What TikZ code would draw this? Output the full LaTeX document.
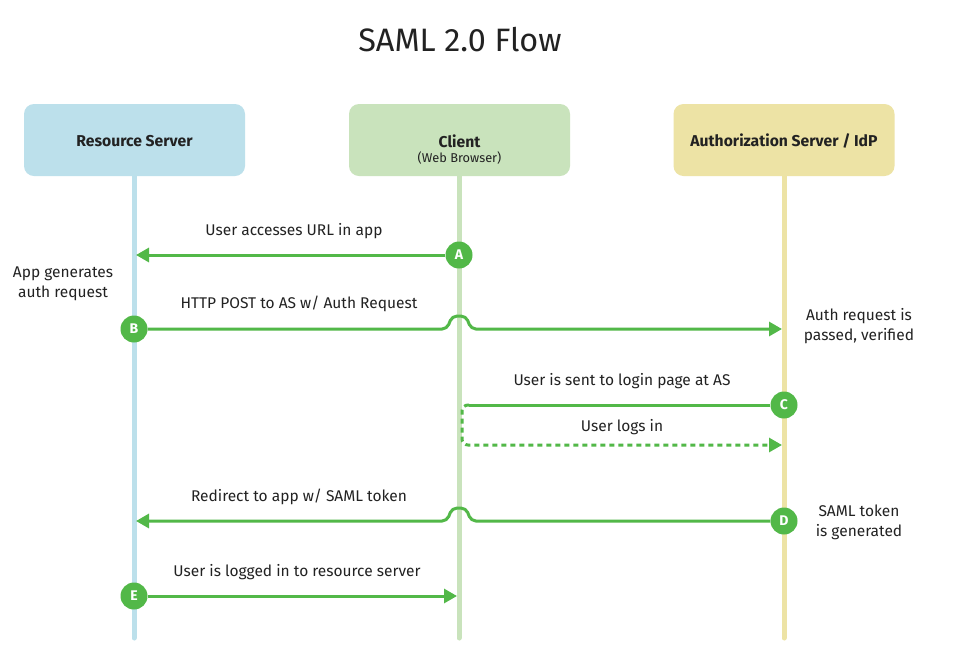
\documentclass[tikz,border=0pt]{standalone}
\usepackage{fontspec}
\setmainfont{Fira Sans}
\usetikzlibrary{arrows.meta}
\definecolor{rsblue}{HTML}{BCE0EB}
\definecolor{clgreen}{HTML}{C9E3BC}
\definecolor{asyellow}{HTML}{EDE3A5}
\definecolor{flow}{HTML}{52B848}
\definecolor{txt}{HTML}{222222}
\begin{document}
\begin{tikzpicture}[x=1pt,y=-1pt,
  actor/.style={rounded corners=10pt, minimum width=221pt, minimum height=72pt, inner sep=0pt},
  life/.style={line width=5pt, line cap=round},
  msg/.style={draw=flow, line width=3pt, -{Triangle[length=13pt,width=14pt]}},
  plain/.style={draw=flow, line width=3pt},
  dots/.style={draw=flow, line width=3pt, dash pattern=on 5pt off 4pt, -{Triangle[length=13pt,width=14pt]}},
  badge/.style={circle, fill=flow, minimum size=27pt, inner sep=0pt, text=white, font=\bfseries\fontsize{14}{14}\selectfont},
  lbl/.style={text=txt, inner sep=0pt, font=\fontsize{15.5}{18}\selectfont},
  note/.style={text=txt, inner sep=0pt, font=\fontsize{15.5}{20}\selectfont, align=center},
  head/.style={text=txt, inner sep=0pt, font=\bfseries\fontsize{15.7}{18}\selectfont}]
\useasboundingbox (0,0) rectangle (979,649);
\fill[white] (0,0) rectangle (979,649);

% title
\node[text=txt, inner sep=0pt, font=\fontsize{32.4}{36}\selectfont] (title) at (460,40) {SAML 2.0 Flow};

% lifeline ends
\coordinate (rsTop) at (134,170);
\coordinate (rsBot) at (134,638);
\coordinate (clTop) at (459,170);
\coordinate (clBot) at (459,638);
\coordinate (asTop) at (784,170);
\coordinate (asBot) at (784,638);
\draw[life, draw=rsblue] (rsTop) -- (rsBot);
\draw[life, draw=clgreen] (clTop) -- (clBot);
\draw[life, draw=asyellow] (asTop) -- (asBot);

% actor boxes
\node[actor, fill=rsblue] (rs) at (134.5,140) {};
\node[actor, fill=clgreen] (cl) at (459.5,140) {};
\node[actor, fill=asyellow] (as) at (784,140) {};
\node[head] (rsT) at (134.5,141) {Resource Server};
\node[head] (clT) at (459.5,141) {Client};
\node[text=txt, inner sep=0pt, font=\fontsize{12.8}{14}\selectfont] (clS) at (459.5,158) {(Web Browser)};
\node[head] (asT) at (784,141) {Authorization Server / IdP};

% badges
\node[badge] (A) at (459,255) {A};
\node[badge] (B) at (134,329) {B};
\node[badge] (C) at (784,405) {C};
\node[badge] (D) at (784,521) {D};
\node[badge] (E) at (134,596) {E};

% arrow end points
\coordinate (aEnd) at (136,255);
\coordinate (bEnd) at (782,329);
\coordinate (cEnd) at (469,405);
\coordinate (lEnd) at (782,445);
\coordinate (dEnd) at (136,521);
\coordinate (eEnd) at (457,596);

% hop coordinates
\coordinate (b1) at (447,329);
\coordinate (b2) at (452,316);
\coordinate (b3) at (466,316);
\coordinate (b4) at (471,329);
\coordinate (d1) at (471,521);
\coordinate (d2) at (466,508);
\coordinate (d3) at (452,508);
\coordinate (d4) at (447,521);
\coordinate (l1) at (462,405);
\coordinate (l2) at (462,445);

% messages
\draw[msg] (A) -- (aEnd);
\draw[msg, rounded corners=5pt] (B) -- (b1) -- (b2) -- (b3) -- (b4) -- (bEnd);
\draw[plain] (C) -- (cEnd);
\draw[dots, rounded corners=6pt] (cEnd) -- (l1) -- (l2) -- (lEnd);
\draw[msg, rounded corners=5pt] (D) -- (d1) -- (d2) -- (d3) -- (d4) -- (dEnd);
\draw[msg] (E) -- (eEnd);

% labels
\node[lbl] (la) at (294,231) {User accesses URL in app};
\node[lbl] (lb) at (299,304) {HTTP POST to AS w/ Auth Request};
\node[lbl] (lc) at (622,381) {User is sent to login page at AS};
\node[lbl] (ll) at (622,427) {User logs in};
\node[lbl] (ld) at (299,497) {Redirect to app w/ SAML token};
\node[lbl] (le) at (297,572) {User is logged in to resource server};

% notes
\node[note] (n1) at (63,284) {App generates\\auth request};
\node[note] (n2) at (859,326) {Auth request is\\passed, verified};
\node[note] (n3) at (859,522) {SAML token\\is generated};
\end{tikzpicture}
\end{document}
